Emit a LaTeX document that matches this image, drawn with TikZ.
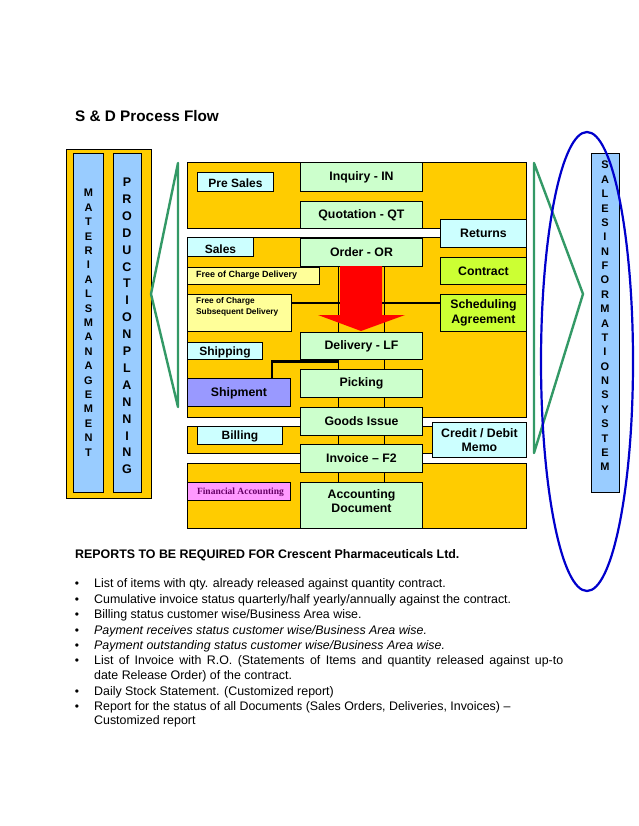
\documentclass[tikz,border=0pt]{standalone}
\usepackage{fontspec}
\setmainfont{Liberation Sans}
\newfontfamily\serifbold{Liberation Serif}
\usetikzlibrary{calc}
\definecolor{cOrange}{HTML}{FFCC00}
\definecolor{cStep}{HTML}{CCFFCC}
\definecolor{cCyan}{HTML}{CCFFFF}
\definecolor{cLYellow}{HTML}{FFFF99}
\definecolor{cLime}{HTML}{CCFF33}
\definecolor{cPurple}{HTML}{9999FF}
\definecolor{cPink}{HTML}{FF99FF}
\definecolor{cBar}{HTML}{99CCFF}
\definecolor{cGreenLine}{HTML}{339966}
\definecolor{cEllipse}{HTML}{0000CC}
\definecolor{cFA}{HTML}{660066}
\pgfdeclarelayer{back}
\pgfdeclarelayer{mid}
\pgfsetlayers{back,mid,main}
\tikzset{
  panel/.style={draw=black, fill=cOrange, line width=0.9pt},
  bx/.style={draw=black, line width=0.9pt, anchor=north west, inner sep=0pt},
  docbox/.style={bx, fill=cStep, align=center, font=\bfseries\fontsize{12.3}{14}\selectfont},
  sidebox/.style={bx, align=center, font=\bfseries\fontsize{12.3}{14.5}\selectfont},
  lbltext/.style={anchor=base, inner sep=0pt, font=\bfseries\fontsize{12}{14}\selectfont},
  vbar/.style={bx, fill=cBar},
  vletter/.style={anchor=base, inner sep=0pt},
  thinline/.style={draw=black, line width=0.9pt},
  thickline/.style={draw=black, line width=2.6pt},
  greenln/.style={draw=cGreenLine, line width=2.4pt, line join=round},
  rtext/.style={anchor=base west, inner sep=0pt, font=\fontsize{12.4}{14}\selectfont},
  bul/.style={anchor=base, inner sep=0pt, font=\fontsize{12}{14}\selectfont},
}
\begin{document}
\begin{tikzpicture}[x=1pt, y=-1pt]
\begin{pgfonlayer}{back}
\fill[white] (0,0) rectangle (638,826);
\end{pgfonlayer}
\useasboundingbox (0,0) rectangle (638,826);

% title
\node[anchor=base west, inner sep=0pt, font=\bfseries\fontsize{15.3}{17}\selectfont] (title) at (75,121.5) {S \& D Process Flow};

% left block: materials management / production planning
\node[bx, fill=cOrange, minimum width=85, minimum height=349] (leftbox) at (66,149) {};
\node[vbar, minimum width=30, minimum height=339] (mmbar) at (73,153) {};
\node[vbar, minimum width=28, minimum height=339] (ppbar) at (113,153) {};
\foreach \ch [count=\i from 0] in {M,A,T,E,R,I,A,L,S,M,A,N,A,G,E,M,E,N,T}
  \node[vletter, font=\bfseries\fontsize{11}{13}\selectfont] (mm\i) at (88.5,196.9+\i*14.4) {\ch};
\foreach \ch [count=\i from 0] in {P,R,O,D,U,C,T,I,O,N,P,L,A,N,N,I,N,G}
  \node[vletter, font=\bfseries\fontsize{12.5}{14}\selectfont] (pp\i) at (127,186.5+\i*16.9) {\ch};

% right block: sales information system
\node[vbar, minimum width=28, minimum height=339] (sisbar) at (591,153) {};
\foreach \ch [count=\i from 0] in {S,A,L,E,S,I,N,F,O,R,M,A,T,I,O,N,S,Y,S,T,E,M}
  \node[vletter, font=\bfseries\fontsize{11}{13}\selectfont] (sis\i) at (605,168.9+\i*14.38) {\ch};

% orange panels
\begin{pgfonlayer}{back}
\path[panel] (187,162) rectangle (526,228);
\path[panel] (187,237) rectangle (526,417);
\path[panel] (187,426) rectangle (526,453);
\path[panel] (187,463) rectangle (526,528);
\end{pgfonlayer}

% main document column
\node[docbox, minimum width=122, minimum height=29] (inq) at (300,162) {Inquiry - IN};
\node[docbox, minimum width=122, minimum height=27] (quo) at (300,201) {Quotation - QT};
\node[docbox, minimum width=122, minimum height=28] (ord) at (300,238) {Order - OR};
\node[docbox, minimum width=122, minimum height=27] (dlv) at (300,332) {Delivery - LF};
\node[docbox, minimum width=122, minimum height=28] (pick) at (300,369) {Picking};
\node[docbox, minimum width=122, minimum height=28] (gi) at (300,407) {Goods Issue};
\node[docbox, minimum width=122, minimum height=28] (inv) at (300,444) {Invoice -- F2};
\node[docbox, minimum width=122, minimum height=46] (acc) at (300,482) {};
\node[inner sep=0pt, align=center, font=\bfseries\fontsize{12.3}{14}\selectfont] (accT) at ($(acc.center)+(0,-4)$) {Accounting\\Document};

% right side boxes
\node[sidebox, fill=cCyan, minimum width=86, minimum height=28] (ret) at (440,219) {Returns};
\node[sidebox, fill=cLime, minimum width=86, minimum height=27] (con) at (440,257) {Contract};
\node[sidebox, fill=cLime, minimum width=86, minimum height=37] (sched) at (440,294) {Scheduling\\Agreement};
\node[sidebox, fill=cCyan, minimum width=94, minimum height=35] (memo) at (432,422) {Credit / Debit\\Memo};

% left side label boxes
\node[bx, fill=cCyan, minimum width=76, minimum height=19] (pres) at (197,172) {};
\node[bx, fill=cCyan, minimum width=66, minimum height=19] (sales) at (187,237) {};
\node[bx, fill=cLYellow, minimum width=132, minimum height=17] (focd) at (187,267) {};
\node[anchor=west, inner sep=0pt, font=\bfseries\fontsize{9}{11}\selectfont] (focdT) at (196,275.5) {Free of Charge Delivery};
\node[bx, fill=cLYellow, minimum width=104, minimum height=37] (fcsd) at (187,294) {};
\node[anchor=north west, inner sep=0pt, align=left, font=\bfseries\fontsize{8.3}{11}\selectfont] (fcsdT) at (196,297) {Free of Charge\\Subsequent Delivery};
\node[bx, fill=cCyan, minimum width=75, minimum height=17] (shipg) at (187,342) {};
\node[bx, fill=cPurple, minimum width=103, minimum height=28] (shipm) at (187,378) {};
\node[inner sep=0pt, font=\bfseries\fontsize{12.3}{14}\selectfont] (shipmT) at ($(shipm.center)+(0,0.5)$) {Shipment};
\node[bx, fill=cCyan, minimum width=85, minimum height=18] (bill) at (197,426) {};
\node[bx, fill=cPink, minimum width=103, minimum height=18] (fa) at (187,482) {};
\node[inner sep=0pt, text=cFA, font=\serifbold\bfseries\fontsize{9.5}{11}\selectfont] (faT) at ($(fa.center)+(1.5,0.5)$) {Financial Accounting};

% clipped labels
\begin{scope}
\clip (pres.north west) rectangle (pres.south east);
\node[lbltext] (presT) at ($(pres.south)+(0,-4)$) {Pre Sales};
\end{scope}
\begin{scope}
\clip (sales.north west) rectangle (sales.south east);
\node[lbltext] (salesT) at ($(sales.south)+(0,-3)$) {Sales};
\end{scope}
\begin{scope}
\clip (shipg.north west) rectangle (shipg.south east);
\node[lbltext] (shipgT) at ($(shipg.south)+(0,-4)$) {Shipping};
\end{scope}
\begin{scope}
\clip (bill.north west) rectangle (bill.south east);
\node[lbltext] (billT) at ($(bill.south)+(0,-5)$) {Billing};
\end{scope}

% connectors
\coordinate (colL) at (338,0);
\coordinate (colR) at (384,0);
\begin{pgfonlayer}{mid}
\draw[thinline] (ord.south -| colL) -- (acc.north -| colL);
\draw[thinline] (ord.south -| colR) -- (acc.north -| colR);
\draw[thickline] ($(fcsd.north east)+(0,9)$) -- ($(sched.north west)+(0,9)$);
\draw[thickline] ($(shipm.north west)+(85,0)$) |- ($(dlv.south -| colL)+(0,1.5)$);
\end{pgfonlayer}

% red arrow
\fill[red] (340,266) -- (382,266) -- (382,315) -- (405,315) -- (361,331) -- (318,315) -- (340,315) -- cycle;

% green brackets
\draw[greenln] (178,163) -- (151,294) -- (178,407) -- cycle;
\draw[greenln] (534,163) -- (583,294) -- (534,453) -- cycle;

% blue ellipse
\draw[cEllipse, line width=2.2pt] (587,361.5) ellipse [x radius=46, y radius=229.5];

% reports
\node[anchor=base west, inner sep=0pt, font=\bfseries\fontsize{12.4}{14}\selectfont] (rephead) at (75,558) {REPORTS TO BE REQUIRED FOR Crescent Pharmaceuticals Ltd.};
\foreach \yy [count=\i] in {587,603,618,634,649,664,695,710}
  \node[bul] (b\i) at (77,\yy) {\textbullet};
\node[rtext] (r1) at (94,587) {List of items with qty. already released against quantity contract.};
\node[rtext] (r2) at (94,603) {Cumulative invoice status quarterly/half yearly/annually against the contract.};
\node[rtext] (r3) at (94,618) {Billing status customer wise/Business Area wise.};
\node[rtext] (r4) at (94,634) {\itshape Payment receives status customer wise/Business Area wise.};
\node[rtext] (r5) at (94,649) {\itshape Payment outstanding status customer wise/Business Area wise.};
\node[rtext] (r6) at (94,664) {\makebox[469pt][s]{List of Invoice with R.O. (Statements of Items and quantity released against up-to}};
\node[rtext] (r6b) at (94,679) {date Release Order) of the contract.};
\node[rtext] (r7) at (94,695) {Daily Stock Statement. (Customized report)};
\node[rtext] (r8) at (94,710) {Report for the status of all Documents (Sales Orders, Deliveries, Invoices) --};
\node[rtext] (r8b) at (94,724) {Customized report};
\end{tikzpicture}
\end{document}
